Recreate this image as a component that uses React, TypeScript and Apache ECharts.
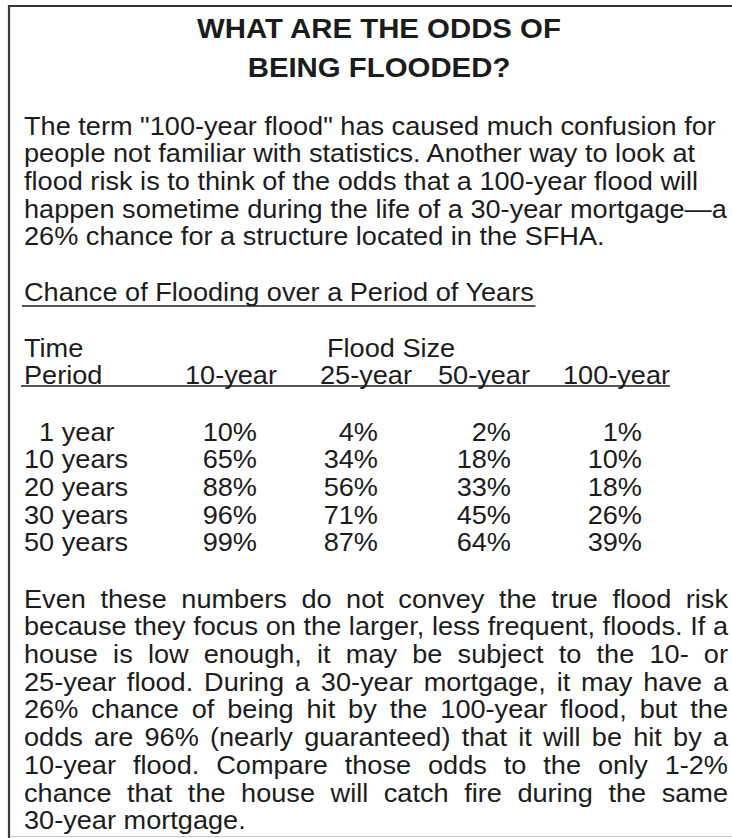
import React, { useEffect, useRef } from "react";
import * as echarts from "echarts";

// ---------- content ----------
const titleLines = ["WHAT ARE THE ODDS OF", "BEING FLOODED?"];
const introLines = [
  'The term "100-year flood" has caused much confusion for',
  "people not familiar with statistics. Another way to look at",
  "flood risk is to think of the odds that a 100-year flood will",
  "happen sometime during the life of a 30-year mortgage\u2014a",
  "26% chance for a structure located in the SFHA.",
];
const tableTitle = "Chance of Flooding over a Period of Years";
const timeHeader = ["Time", "Period"];
const floodSizeHeader = "Flood Size";
const floodSizes = ["10-year", "25-year", "50-year", "100-year"];
const periodNumbers = ["1", "10", "20", "30", "50"];
const periodUnits = ["year", "years", "years", "years", "years"];
const chance10yr = [10, 65, 88, 96, 99];
const chance25yr = [4, 34, 56, 71, 87];
const chance50yr = [2, 18, 33, 45, 64];
const chance100yr = [1, 10, 18, 26, 39];
const outroLines = [
  "Even these numbers do not convey the true flood risk",
  "because they focus on the larger, less frequent, floods. If a",
  "house is low enough, it may be subject to the 10- or",
  "25-year flood. During a 30-year mortgage, it may have a",
  "26% chance of being hit by the 100-year flood, but the",
  "odds are 96% (nearly guaranteed) that it will be hit by a",
  "10-year flood. Compare those odds to the only 1-2%",
  "chance that the house will catch fire during the same",
  "30-year mortgage.",
];

// ---------- layout ----------
const W = 732;
const H = 838;
const FAMILY = '"Liberation Sans", Arial, Helvetica, sans-serif';
const BODY_PX = 25;
const TITLE_PX = 28;
const INK = "#1c1c1c";
const LEFT = 24;
const RIGHT = 728;
const TITLE_CX = 379;
const TITLE_Y = [28, 67];
const TITLE_TARGET_W = 365;
const INTRO_Y0 = 126;
const LINE_STEP = 27.7;
const INTRO_TARGET_W = 703; // width of 4th intro line
const TABLE_TITLE_Y = 292;
const TABLE_TITLE_UL = 306;
const HEAD_Y = [348, 375];
const HEAD_UL = 386;
const HEAD_UL_X = [21, 670];
const FLOOD_SIZE_X = 327;
const COL_HEAD_X = [185, 320, 438, 563];
const COL_RIGHT_X = [257, 378, 511, 642];
const ROW_Y0 = 432;
const OUTRO_Y0 = 599;

export default function App() {
  const ref = useRef<HTMLDivElement>(null);

  useEffect(() => {
    if (!ref.current) return;
    const chart = echarts.init(ref.current, null, { renderer: "svg" });

    const canvas = document.createElement("canvas");
    const ctx = canvas.getContext("2d")!;
    const bodyFont = `${BODY_PX}px ${FAMILY}`;
    const titleFont = `bold ${TITLE_PX}px ${FAMILY}`;
    const measure = (t: string, f: string) => {
      ctx.font = f;
      return ctx.measureText(t).width;
    };

    const sx = INTRO_TARGET_W / measure(introLines[3], bodyFont);
    const tsx = TITLE_TARGET_W / measure(titleLines[0], titleFont);

    const txt = (
      text: string,
      x: number,
      y: number,
      font: string,
      scale: number,
      align: string = "left"
    ) => ({
      type: "text",
      x,
      y,
      scaleX: scale,
      silent: true,
      style: {
        text,
        x: 0,
        y: 0,
        font,
        fill: INK,
        textAlign: align,
        textVerticalAlign: "middle",
      },
    });

    const hline = (x1: number, x2: number, y: number, w = 1.6, c = INK) => ({
      type: "line",
      silent: true,
      shape: { x1, y1: y, x2, y2: y },
      style: { stroke: c, lineWidth: w },
    });

    const els: any[] = [];

    // frame
    els.push(hline(8, W, 6, 2.2, "#333"));
    els.push({
      type: "line",
      silent: true,
      shape: { x1: 9, y1: 5, x2: 9, y2: H },
      style: { stroke: "#3a3a3a", lineWidth: 2.2 },
    });
    els.push(hline(10, W, 836.5, 1, "#c8c8c8"));

    // title
    titleLines.forEach((t, i) =>
      els.push(txt(t, TITLE_CX, TITLE_Y[i], titleFont, tsx, "center"))
    );

    // intro
    introLines.forEach((t, i) =>
      els.push(txt(t, LEFT, INTRO_Y0 + i * LINE_STEP, bodyFont, sx))
    );

    // table title + underline
    els.push(txt(tableTitle, LEFT, TABLE_TITLE_Y, bodyFont, sx));
    els.push(
      hline(LEFT - 2, LEFT + measure(tableTitle, bodyFont) * sx + 1, TABLE_TITLE_UL, 1.6)
    );

    // headers
    els.push(txt(timeHeader[0], LEFT, HEAD_Y[0], bodyFont, sx));
    els.push(txt(timeHeader[1], LEFT, HEAD_Y[1], bodyFont, sx));
    els.push(txt(floodSizeHeader, FLOOD_SIZE_X, HEAD_Y[0], bodyFont, sx));
    floodSizes.forEach((f, i) =>
      els.push(txt(f, COL_HEAD_X[i], HEAD_Y[1], bodyFont, sx))
    );
    els.push(hline(HEAD_UL_X[0], HEAD_UL_X[1], HEAD_UL, 1.6));

    // rows
    const digitW = measure("0", bodyFont) * sx;
    const numRight = LEFT + digitW * 2;
    const cols = [chance10yr, chance25yr, chance50yr, chance100yr];
    periodNumbers.forEach((n, r) => {
      const y = ROW_Y0 + r * LINE_STEP;
      els.push(txt(n, numRight, y, bodyFont, sx, "right"));
      els.push(
        txt(periodUnits[r], numRight + measure(" ", bodyFont) * sx, y, bodyFont, sx)
      );
      cols.forEach((col, c) =>
        els.push(txt(`${col[r]}%`, COL_RIGHT_X[c], y, bodyFont, sx, "right"))
      );
    });

    // outro, justified
    outroLines.forEach((line, i) => {
      const y = OUTRO_Y0 + i * LINE_STEP;
      if (i === outroLines.length - 1) {
        els.push(txt(line, LEFT, y, bodyFont, sx));
        return;
      }
      const words = line.split(" ");
      const widths = words.map((w) => measure(w, bodyFont) * sx);
      const total = widths.reduce((a, b) => a + b, 0);
      const gap = (RIGHT - LEFT - total) / (words.length - 1);
      let x = LEFT;
      words.forEach((w, k) => {
        els.push(txt(w, x, y, bodyFont, sx));
        x += widths[k] + gap;
      });
    });

    chart.setOption({
      animation: false,
      backgroundColor: "#ffffff",
      graphic: { elements: els },
    });

    return () => chart.dispose();
  }, []);

  return (
    <div
      ref={ref}
      style={{ position: "fixed", left: 0, top: 0, width: W, height: H }}
    />
  );
}
